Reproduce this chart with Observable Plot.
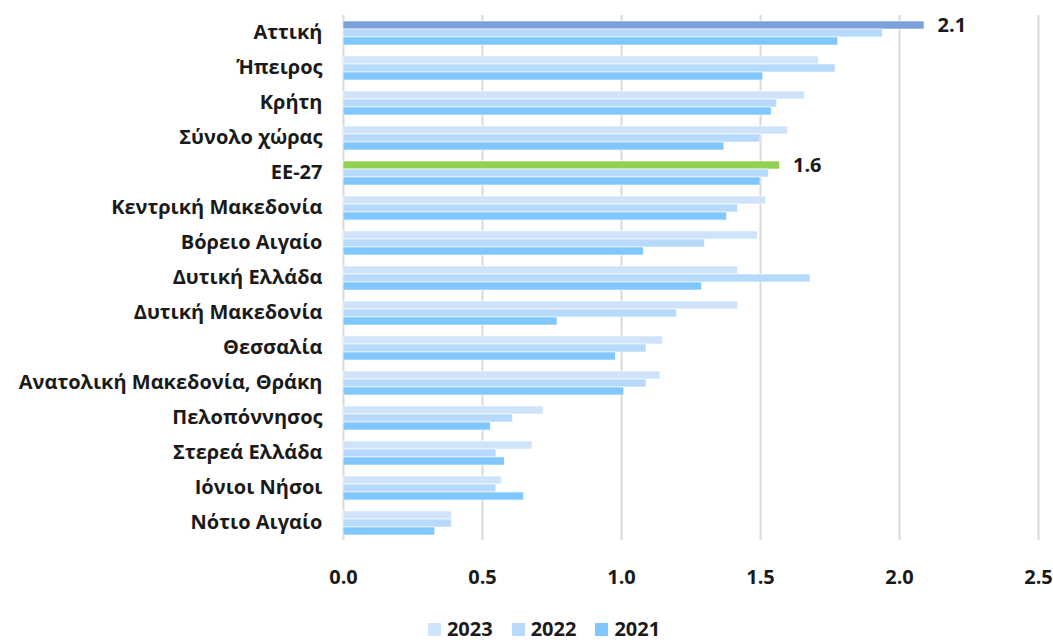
<!DOCTYPE html>
<html>
<head>
<meta charset="utf-8">
<script src="https://cdn.jsdelivr.net/npm/d3@7"></script>
<script src="https://cdn.jsdelivr.net/npm/@observablehq/plot@0.6"></script>
<style>
  body { margin: 0; background: #fff; font-family: "Open Sans", sans-serif; overflow: hidden; }
  #chart { width: 1053px; height: 600px; }
  .legend { display: flex; justify-content: center; gap: 19px; margin-left: 35px; margin-top: 19px; font-weight: bold; font-size: 20px; line-height: 20px; height: 20px; color: #1a1a1a; }
  .legend span.item { display: inline-flex; align-items: center; gap: 6px; }
  .legend span.sw { display: inline-block; width: 13px; height: 13px; }
</style>
</head>
<body>
<div id="chart"></div>
<script>
const categories = ["Αττική","Ήπειρος","Κρήτη","Σύνολο χώρας","ΕΕ-27","Κεντρική Μακεδονία","Βόρειο Αιγαίο","Δυτική Ελλάδα","Δυτική Μακεδονία","Θεσσαλία","Ανατολική Μακεδονία, Θράκη","Πελοπόννησος","Στερεά Ελλάδα","Ιόνιοι Νήσοι","Νότιο Αιγαίο"];
const years = ["2023","2022","2021"];
const v2023 = [2.09,1.71,1.66,1.60,1.57,1.52,1.49,1.42,1.42,1.15,1.14,0.72,0.68,0.57,0.39];
const v2022 = [1.94,1.77,1.56,1.50,1.53,1.42,1.30,1.68,1.20,1.09,1.09,0.61,0.55,0.55,0.39];
const v2021 = [1.78,1.51,1.54,1.37,1.50,1.38,1.08,1.29,0.77,0.98,1.01,0.53,0.58,0.65,0.33];
const xTicks = [0, 0.5, 1.0, 1.5, 2.0, 2.5];
const yearColors = ["#CFE4FB", "#B6D9FC", "#80C7FF"];
const highlightCats = ["Αττική", "ΕΕ-27"];
const highlightColors = ["#7BA0DC", "#92D050"];

const series = [v2023, v2022, v2021];
const data = [];
categories.forEach((c, i) => {
  years.forEach((y, j) => {
    data.push({cat: c, year: y, value: series[j][i]});
  });
});
function colorOf(d) {
  const h = highlightCats.indexOf(d.cat);
  if (h >= 0 && d.year === years[0]) return highlightColors[h];
  return yearColors[years.indexOf(d.year)];
}
const labels = data.filter(d => d.year === years[0] && highlightCats.includes(d.cat));

const chart = Plot.plot({
  width: 1053,
  height: 600,
  marginLeft: 343,
  marginRight: 15,
  marginTop: 9,
  marginBottom: 54,
  style: {fontFamily: "'Open Sans', sans-serif", fontSize: "20px", fontWeight: "bold", color: "#1a1a1a"},
  x: {domain: [0, 2.5], label: null},
  fy: {domain: categories, padding: 0, label: null},
  y: {domain: years, paddingInner: 0, paddingOuter: 0.57, axis: null},
  marks: [
    Plot.gridX(xTicks, {stroke: "#D9D9D9", strokeOpacity: 1, strokeWidth: 2}),
    Plot.axisX(xTicks, {tickFormat: d3.format(".1f"), tickSize: 0, tickPadding: 29, fontSize: 20, fontWeight: "bold", label: null}),
    Plot.axisFy({anchor: "left", tickSize: 0, tickPadding: 21, fontSize: 20, fontWeight: "bold", label: null}),
    Plot.barX(data, {x: "value", y: "year", fy: "cat", fill: colorOf, stroke: "#ffffff", strokeWidth: 0.6}),
    Plot.text(labels, {x: "value", y: "year", fy: "cat", text: d => d.value.toFixed(1), textAnchor: "start", dx: 13, fontSize: 20, fontWeight: "bold", fill: "#1a1a1a"})
  ]
});
document.getElementById("chart").appendChild(chart);

const legend = document.createElement("div");
legend.className = "legend";
years.forEach((y, j) => {
  const item = document.createElement("span");
  item.className = "item";
  const sw = document.createElement("span");
  sw.className = "sw";
  sw.style.background = yearColors[j];
  const t = document.createElement("span");
  t.textContent = y;
  item.appendChild(sw);
  item.appendChild(t);
  legend.appendChild(item);
});
document.body.appendChild(legend);
</script>
</body>
</html>
